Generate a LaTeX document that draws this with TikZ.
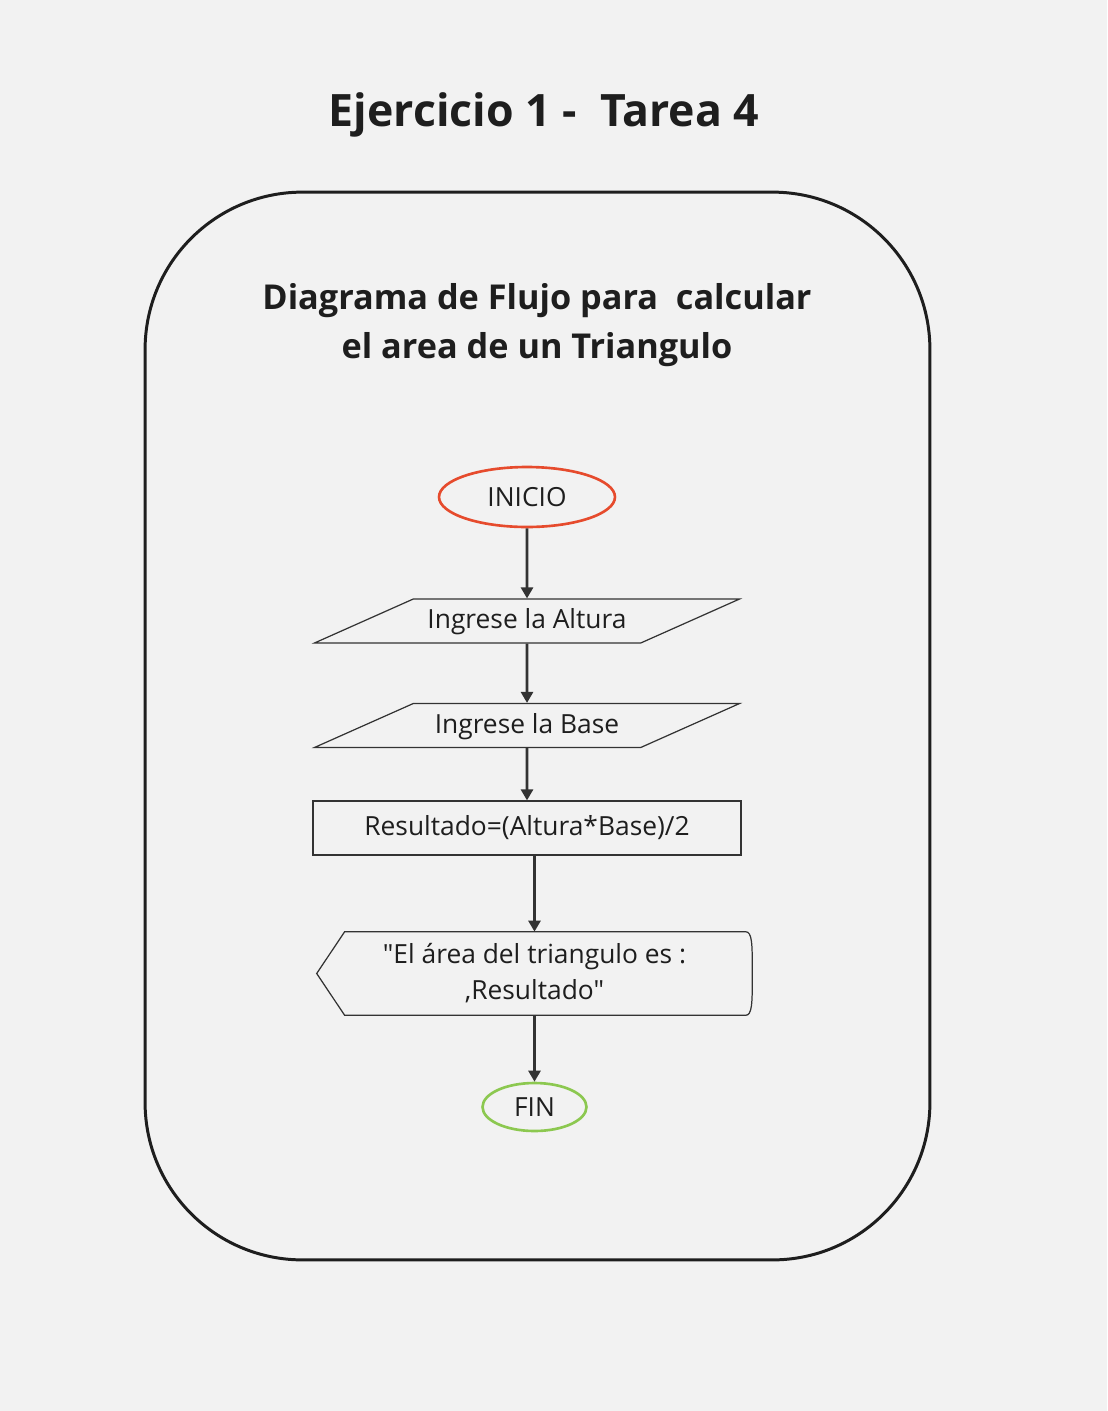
\documentclass[tikz,border=0pt]{standalone}
\usepackage{fontspec}
\setmainfont{Open Sans}[Ligatures=TeXOff]
\usetikzlibrary{shapes.geometric, arrows.meta, positioning, calc}
\definecolor{fondo}{RGB}{242,242,242}
\definecolor{tinta}{RGB}{30,30,30}
\definecolor{linea}{RGB}{51,51,51}
\definecolor{rojoinicio}{RGB}{230,75,45}
\definecolor{verdefin}{RGB}{140,200,80}

\begin{document}
\begin{tikzpicture}[
  x=0.02cm,y=-0.02cm,
  marco/.style={
    rectangle, rounded corners=3.15cm, line width=1.7pt,
    draw=tinta, minimum width=15.7cm, minimum height=21.36cm
  },
  titulo/.style={font=\fontsize{25.4}{30}\selectfont\bfseries, text=tinta},
  subtitulo/.style={
    font=\fontsize{19.5}{27.8}\selectfont\bfseries, text=tinta, align=center
  },
  terminal/.style={
    ellipse, line width=1.5pt, inner sep=0pt,
    font=\fontsize{15}{18}\selectfont, text=tinta
  },
  entrada/.style={
    trapezium, trapezium left angle=24, trapezium right angle=156,
    trapezium stretches body, draw=linea, line width=0.7pt,
    minimum width=8.5cm, text height=11.5pt, text depth=2.5pt,
    inner xsep=0pt, inner ysep=5.5pt,
    font=\fontsize{15}{18}\selectfont, text=tinta
  },
  proceso/.style={
    rectangle, draw=linea, line width=0.7pt,
    minimum width=8.56cm, minimum height=1.08cm, inner sep=0pt,
    font=\fontsize{15}{18}\selectfont, text=tinta
  },
  salida/.style={
    rectangle, minimum width=8.7cm, minimum height=1.66cm, inner sep=0pt,
    align=center, font=\fontsize{15}{20.4}\selectfont, text=tinta
  },
  arrow/.style={-{Triangle[length=0.22cm, width=0.24cm]}, line width=1.5pt, draw=linea}
]

% ---- Page and frame ----
\fill[fondo] (0,0) rectangle (1107,1411);
\useasboundingbox (0,0) rectangle (1107,1411);
\node[marco] (marco) at (537.5,726) {};

% ---- Titles ----
\node[titulo] (titulo) at (544,115) {Ejercicio 1 -\ \ Tarea 4};
\node[subtitulo] (subtitulo) at (537,325) {Diagrama de Flujo para\ \ calcular\\el area de un Triangulo};

% ---- Flow chart ----
\node[terminal, draw=rojoinicio, minimum width=3.52cm, minimum height=1.2cm] (inicio) at (527,497) {INICIO};
\node[entrada] (altura) at (527,621) {Ingrese la Altura};
\node[entrada] (base) at (527,725.5) {Ingrese la Base};
\node[proceso] (resultado) at (527,828) {Resultado=(Altura*Base)/2};
\node[salida] (mensaje) at (534.5,973.5) {"El área del triangulo es :\\,Resultado"};
\node[terminal, draw=verdefin, minimum width=2.08cm, minimum height=0.96cm] (fin) at (534.5,1107) {FIN};

% display outline round the message
\draw[linea, line width=0.7pt] (mensaje.west) -- ($(mensaje.north west)+(28,0)$)
  -- ($(mensaje.north east)+(-7,0)$)
  .. controls (mensaje.north east) and ($(mensaje.east)+(0,-30)$) .. (mensaje.east)
  .. controls ($(mensaje.east)+(0,30)$) and (mensaje.south east) .. ($(mensaje.south east)+(-7,0)$)
  -- ($(mensaje.south west)+(28,0)$) -- cycle;

% ---- Connectors ----
\draw[arrow] (inicio) -- (altura);
\draw[arrow] (altura) -- (base);
\draw[arrow] (base) -- (resultado);
\draw[arrow] (resultado.south -| mensaje.north) -- (mensaje.north);
\draw[arrow] (mensaje.south) -- (fin.north);

\end{tikzpicture}
\end{document}
